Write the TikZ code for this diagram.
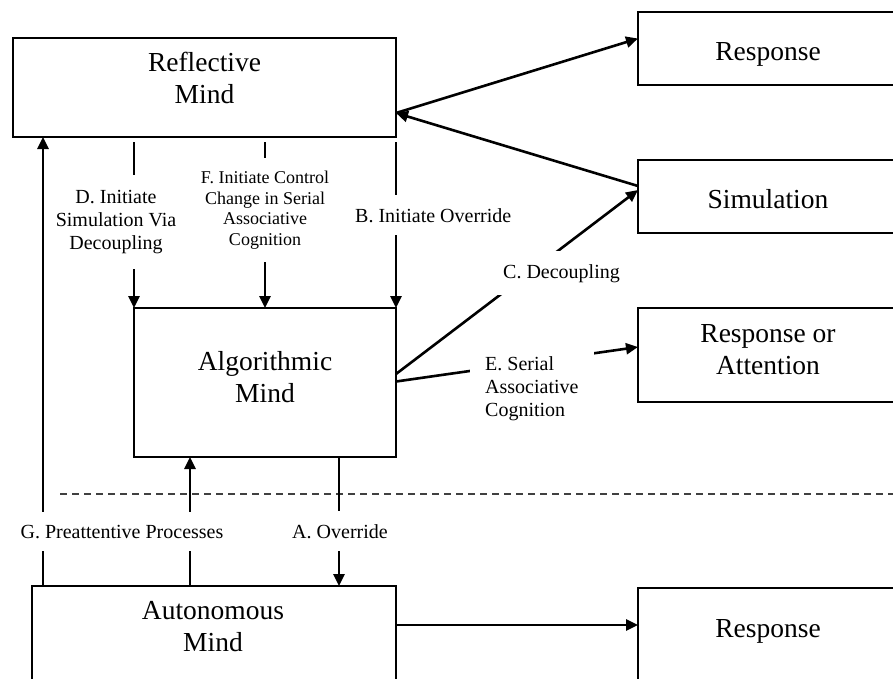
\documentclass[tikz,border=0pt]{standalone}
\usepackage{fontspec}
\setmainfont{Liberation Serif}
\usetikzlibrary{arrows.meta}

\tikzset{
  mind/.style={draw, line width=2.8pt, inner sep=0pt, outer sep=0pt},
  boxtext/.style={font=\fontsize{27.5}{32}\selectfont, align=center, inner sep=0pt},
  tag/.style={fill=white, inner xsep=6pt, inner ysep=13pt, align=center, font=\fontsize{20}{23}\selectfont},
  link/.style={line width=2.6pt, -{Triangle[length=12pt,width=11pt]}},
}

\begin{document}
\begin{tikzpicture}[x=1pt, y=-1pt]
	\useasboundingbox (0,0) rectangle (893,678);
	\clip (0,0) rectangle (893,678);
	\node[mind, minimum width=383, minimum height=99] (refl) at (204.5,87.5) {};
	\node[mind, minimum width=262, minimum height=149] (algo) at (265,382.5) {};
	\node[mind, minimum width=364, minimum height=134] (auto) at (214,653) {};
	\node[mind, minimum width=262, minimum height=73] (resp1) at (769,48.5) {};
	\node[mind, minimum width=262, minimum height=73] (simu) at (769,196.5) {};
	\node[mind, minimum width=262, minimum height=94] (resp2) at (769,355) {};
	\node[mind, minimum width=262, minimum height=132] (resp3) at (769,654) {};
	\node[boxtext] (refl-txt) at (204.5,78) {Reflective\\Mind};
	\node[boxtext] (algo-txt) at (265,377) {Algorithmic\\Mind};
	\node[boxtext] (auto-txt) at (213,627) {Autonomous\\Mind};
	\node[boxtext, anchor=base] (resp1-txt) at (768,60) {Response};
	\node[boxtext, anchor=base] (simu-txt) at (768,208) {Simulation};
	\node[boxtext] (resp2-txt) at (768,350) {Response or\\Attention};
	\node[boxtext, anchor=base] (resp3-txt) at (768,637) {Response};
	\draw[dashed, line width=1.5pt, black!75, dash pattern=on 7pt off 5pt] (60,494) -- (893,494);
	\draw[link, shorten <=5pt] (refl.south -| algo.north west) -- (algo.north west);
	\draw[link, shorten <=5pt] (refl.south -| algo.north) -- (algo.north);
	\draw[link, shorten <=5pt] (refl.south -| algo.north east) -- (algo.north east);
	\coordinate (g-foot) at ([xshift=11pt]auto.north west);
	\coordinate (p-top) at ([xshift=56pt]algo.south west);
	\coordinate (a-top) at ([xshift=-57pt]algo.south east);
	\coordinate (out) at ([yshift=28pt]auto.east);
	\draw[link] (g-foot) -- (g-foot |- refl.south);
	\draw[link] (p-top |- auto.north) -- (p-top);
	\draw[link] (a-top) -- (a-top |- auto.north);
	\draw[link] ([yshift=-25.5pt]refl.east) -- ([yshift=10pt]resp1.west);
	\draw[link] ([yshift=10.5pt]simu.west) -- ([yshift=-25.5pt]refl.east);
	\draw[link] ([yshift=8.5pt]algo.east) -- ([yshift=6.5pt]simu.west);
	\draw[link] ([yshift=1pt]algo.east) -- ([yshift=8pt]resp2.west);
	\draw[link] (out) -- (out -| resp3.west);
	\node[tag, inner ysep=15pt] (d-tag) at (116,222) {D. Initiate\\Simulation Via\\Decoupling};
	\node[tag, font=\fontsize{18}{20.5}\selectfont] (f-tag) at (265,210) {F. Initiate Control\\Change in Serial\\Associative\\Cognition};
	\node[tag, anchor=base west] (b-tag) at (349,222) {B. Initiate Override};
	\node[tag, anchor=base west] (c-tag) at (497,278) {C. Decoupling};
	\node[tag, align=left, anchor=west, inner xsep=15pt] (e-tag) at (470,389) {E. Serial\\Associative\\Cognition};
	\node[tag, anchor=base] (g-tag) at (122,538) {G. Preattentive Processes};
	\node[tag, anchor=base] (a-tag) at (340,538) {A. Override};
\end{tikzpicture}
\end{document}
